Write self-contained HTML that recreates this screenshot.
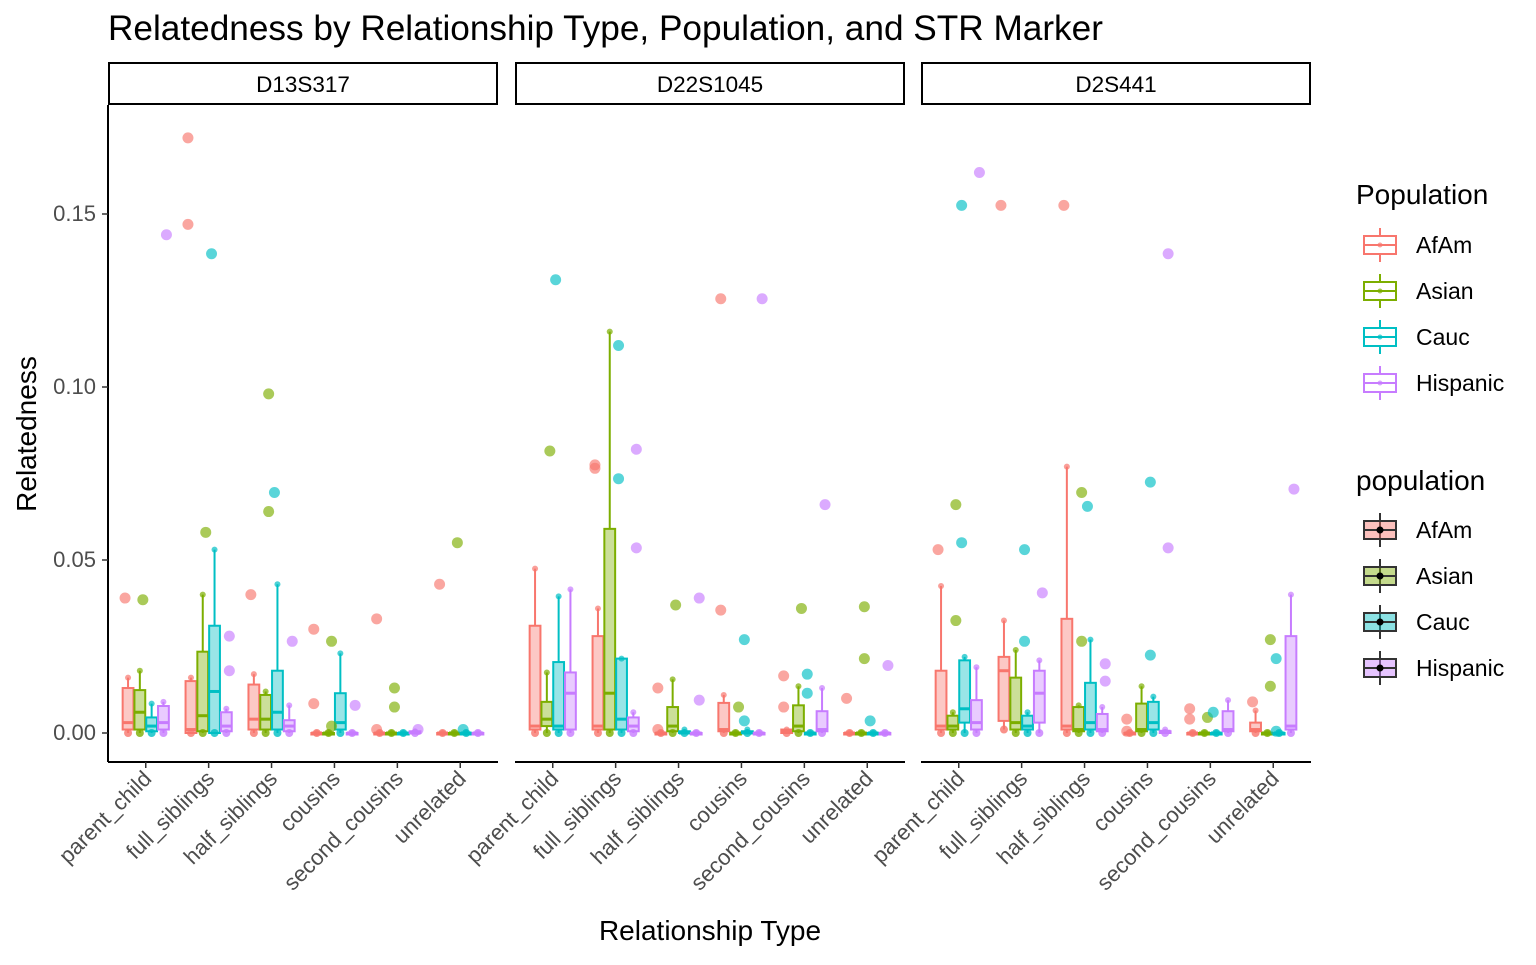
<!DOCTYPE html>
<html><head><meta charset="utf-8"><style>
body{margin:0;background:#fff;}
svg{font-family:"Liberation Sans",Arial,sans-serif;}
</style></head><body>
<svg id="c" width="1536" height="960" xmlns="http://www.w3.org/2000/svg"></svg>
<script>
const markers = ["D13S317","D22S1045","D2S441"];
const categories = ["parent_child","full_siblings","half_siblings","cousins","second_cousins","unrelated"];
const populations = ["AfAm","Asian","Cauc","Hispanic"];
const colors = ["#F8766D","#7CAE00","#00BFC4","#C77CFF"];
const yTicks = [0,0.05,0.10,0.15];
const yTickLabels = ["0.00","0.05","0.10","0.15"];
// box stats [low, q1, median, q3, high] per marker -> category -> population
const boxStats = [
 [
  [[0,0.001,0.003,0.013,0.016],[0,0.001,0.006,0.0124,0.018],[0,0.0005,0.002,0.0045,0.0085],[0,0.001,0.003,0.0078,0.009]],
  [[0,0,0.001,0.015,0.016],[0,0.0005,0.005,0.0235,0.040],[0,0,0.012,0.031,0.053],[0,0.0005,0.002,0.006,0.007]],
  [[0,0.001,0.004,0.014,0.017],[0,0.001,0.004,0.011,0.012],[0,0.001,0.006,0.018,0.043],[0,0.0005,0.002,0.0037,0.008]],
  [[0,0,0,0,0],[0,0,0,0,0],[0,0.001,0.003,0.0115,0.023],[0,0,0,0,0]],
  [[0,0,0,0,0],[0,0,0,0,0],[0,0,0,0,0],[0,0,0,0.0005,0.0005]],
  [[0,0,0,0,0],[0,0,0,0,0],[0,0,0,0,0],[0,0,0,0,0]]
 ],
 [
  [[0,0.001,0.002,0.031,0.0475],[0,0.002,0.004,0.009,0.0175],[0,0.001,0.002,0.0205,0.0395],[0,0.001,0.0115,0.0175,0.0415]],
  [[0,0.001,0.002,0.028,0.036],[0,0.001,0.0115,0.059,0.116],[0,0.001,0.004,0.0215,0.0215],[0,0.0005,0.002,0.0045,0.006]],
  [[0,0,0,0,0],[0,0.0005,0.002,0.0075,0.0155],[0,0,0,0.0005,0.001],[0,0,0,0,0]],
  [[0,0.0005,0.001,0.0087,0.011],[0,0,0,0,0],[0,0,0,0.0005,0.001],[0,0,0,0,0]],
  [[0,0,0.0005,0.001,0.001],[0,0.0005,0.002,0.008,0.0135],[0,0,0,0,0],[0,0.0005,0.001,0.0063,0.013]],
  [[0,0,0,0,0],[0,0,0,0,0],[0,0,0,0,0],[0,0,0,0,0]]
 ],
 [
  [[0,0.001,0.002,0.018,0.0425],[0,0.001,0.002,0.005,0.006],[0,0.003,0.007,0.021,0.022],[0,0.001,0.003,0.0095,0.019]],
  [[0.001,0.0035,0.018,0.022,0.0325],[0,0.001,0.003,0.016,0.024],[0,0.001,0.002,0.005,0.006],[0,0.003,0.0115,0.018,0.021]],
  [[0,0.001,0.002,0.033,0.077],[0,0.0005,0.001,0.0075,0.008],[0,0.001,0.003,0.0145,0.027],[0,0.0005,0.001,0.0055,0.0075]],
  [[0,0,0,0,0],[0,0.0005,0.001,0.0085,0.0135],[0,0.001,0.003,0.009,0.0105],[0,0,0.0005,0.0005,0.001]],
  [[0,0,0,0,0],[0,0,0,0,0],[0,0,0,0,0],[0,0.0005,0.001,0.0063,0.0095]],
  [[0,0.0005,0.001,0.003,0.0065],[0,0,0,0,0],[0,0,0,0,0],[0,0.001,0.002,0.028,0.040]]
 ]
];
// outliers: [marker, category, population, value]
const outliers = [
 [0,0,0,0.039],[0,0,1,0.0385],[0,0,3,0.144],
 [0,1,0,0.172],[0,1,0,0.147],[0,1,1,0.058],[0,1,2,0.1385],[0,1,3,0.028],[0,1,3,0.018],
 [0,2,0,0.040],[0,2,1,0.064],[0,2,1,0.098],[0,2,2,0.0695],[0,2,3,0.0265],
 [0,3,0,0.030],[0,3,0,0.0085],[0,3,1,0.0265],[0,3,1,0.002],[0,3,3,0.008],
 [0,4,0,0.033],[0,4,0,0.001],[0,4,1,0.013],[0,4,1,0.0075],[0,4,3,0.001],
 [0,5,0,0.043],[0,5,1,0.055],[0,5,2,0.001],
 [1,0,1,0.0815],[1,0,2,0.131],
 [1,1,0,0.0775],[1,1,0,0.0765],[1,1,2,0.112],[1,1,2,0.0735],[1,1,3,0.082],[1,1,3,0.0535],
 [1,2,0,0.013],[1,2,0,0.001],[1,2,1,0.037],[1,2,3,0.039],[1,2,3,0.0095],
 [1,3,0,0.1255],[1,3,0,0.0355],[1,3,1,0.0075],[1,3,2,0.027],[1,3,2,0.0035],[1,3,3,0.1255],
 [1,4,0,0.0165],[1,4,0,0.0075],[1,4,1,0.036],[1,4,2,0.017],[1,4,2,0.0115],[1,4,3,0.066],
 [1,5,0,0.010],[1,5,1,0.0365],[1,5,1,0.0215],[1,5,2,0.0035],[1,5,3,0.0195],
 [2,0,0,0.053],[2,0,1,0.066],[2,0,1,0.0325],[2,0,2,0.055],[2,0,2,0.1525],[2,0,3,0.162],
 [2,1,0,0.1525],[2,1,2,0.053],[2,1,2,0.0265],[2,1,3,0.0405],
 [2,2,0,0.1525],[2,2,1,0.0695],[2,2,1,0.0265],[2,2,2,0.0655],[2,2,3,0.020],[2,2,3,0.015],
 [2,3,0,0.004],[2,3,0,0.0005],[2,3,2,0.0725],[2,3,2,0.0225],[2,3,3,0.1385],[2,3,3,0.0535],
 [2,4,0,0.007],[2,4,0,0.004],[2,4,1,0.0045],[2,4,2,0.006],
 [2,5,0,0.009],[2,5,1,0.027],[2,5,1,0.0135],[2,5,2,0.0215],[2,5,2,0.0005],[2,5,3,0.0705]
];
const NS="http://www.w3.org/2000/svg";
const svg=document.getElementById('c');
function mk(tag,attrs,parent){const e=document.createElementNS(NS,tag);for(const k in attrs)e.setAttribute(k,attrs[k]);(parent||svg).appendChild(e);return e;}
const panelX=[108,515,921], panelW=390, yTop=105, yBot=762;
function yScale(v){return 733 - v*3460;}
function xScale(p,ci,pi){const unit=panelW/6.2;return panelX[p]+(0.6+ci)*unit+(pi-1.5)*0.1875*unit;}
const boxW=0.1875*panelW/6.2-1;

let t=mk('text',{x:108,y:40,'font-size':35.2,fill:'#000'});t.textContent="Relatedness by Relationship Type, Population, and STR Marker";



markers.forEach((m,p)=>{
  const g=mk('g',{});
  
  
  const s=mk('rect',{x:panelX[p]+1,y:63,width:panelW-2,height:41,fill:'#fff',stroke:'#000','stroke-width':2},g);
  
  
  const st=mk('text',{x:panelX[p]+panelW/2,y:92,'font-size':22.5,'text-anchor':'middle'},g);st.textContent=m;
  
  
  const ax=mk('line',{x1:panelX[p],x2:panelX[p]+panelW,y1:yBot,y2:yBot,stroke:'#000','stroke-width':2},g);
  
  
  categories.forEach((c,ci)=>{
    const cx=panelX[p]+(0.6+ci)*panelW/6.2;
    mk('line',{x1:cx,x2:cx,y1:yBot,y2:yBot+6,stroke:'#333','stroke-width':1.5},g);
    const lt=mk('text',{x:0,y:0,'font-size':22,fill:'#4d4d4d','text-anchor':'end',transform:`translate(${cx+7},${yBot+18}) rotate(-45)`},g);
    lt.textContent=c;
    
    
    populations.forEach((pop,pi)=>{
      const [lo,q1,med,q3,hi]=boxStats[p][ci][pi];
      const x=xScale(p,ci,pi), col=colors[pi];
      const bg=mk('g',{},g);
      
      
      mk('line',{x1:x,x2:x,y1:yScale(hi),y2:yScale(q3),stroke:col,'stroke-width':2},bg);
      mk('line',{x1:x,x2:x,y1:yScale(q1),y2:yScale(lo),stroke:col,'stroke-width':2},bg);
      const h=Math.max(yScale(q1)-yScale(q3),1.5);
      mk('rect',{x:x-boxW/2,y:yScale(q3),width:boxW,height:h,fill:col,'fill-opacity':0.4,stroke:col,'stroke-width':2},bg);
      mk('line',{x1:x-boxW/2,x2:x+boxW/2,y1:yScale(med),y2:yScale(med),stroke:col,'stroke-width':3},bg);
      mk('circle',{cx:x,cy:yScale(lo),r:4,fill:col,'fill-opacity':0.8},bg);
      mk('circle',{cx:x,cy:yScale(hi),r:3,fill:col,'fill-opacity':0.7},bg);
    });
  });
});
outliers.forEach(([p,ci,pi,v])=>{
  const x=xScale(p,ci,pi)+(pi%2?3:-3);
  const c=mk('circle',{cx:x,cy:yScale(v),r:5.5,fill:colors[pi],'fill-opacity':0.65});
  
  
});
const ya=mk('line',{x1:108,x2:108,y1:yTop,y2:yBot,stroke:'#000','stroke-width':2});


yTicks.forEach((v,i)=>{
  mk('line',{x1:102,x2:108,y1:yScale(v),y2:yScale(v),stroke:'#333','stroke-width':1.5});
  const tl=mk('text',{x:96,y:yScale(v)+7,'font-size':22,fill:'#4d4d4d','text-anchor':'end'});tl.textContent=yTickLabels[i];
  
  
});
const yt=mk('text',{x:0,y:0,'font-size':28,'text-anchor':'middle',transform:'translate(36,434) rotate(-90)'});yt.textContent="Relatedness";


const xt=mk('text',{x:710,y:940,'font-size':28,'text-anchor':'middle'});xt.textContent="Relationship Type";


function legend(title,ty,firstY,filled){
  const lg=mk('g',{});
  
  
  const tt=mk('text',{x:1356,y:ty,'font-size':28},lg);tt.textContent=title;
  populations.forEach((pop,i)=>{
    const y=firstY+i*46, col=colors[i];
    const e=mk('g',{},lg);
    
    
    const sc=filled?'#333':col;
    mk('line',{x1:1380,x2:1380,y1:y-17,y2:y+17,stroke:sc,'stroke-width':2},e);
    mk('rect',{x:1364,y:y-9,width:32,height:18,fill:filled?col:'#fff','fill-opacity':filled?0.45:1,stroke:sc,'stroke-width':2},e);
    mk('line',{x1:1364,x2:1396,y1:y,y2:y,stroke:sc,'stroke-width':2},e);
    mk('circle',{cx:1380,cy:y,r:filled?3.5:2.5,fill:filled?'#000':col,'fill-opacity':filled?1:0.7},e);
    const lt=mk('text',{x:1416,y:y+8,'font-size':23},e);lt.textContent=pop;
  });
}
legend("Population",204,245,false);
legend("population",490,530,true);
</script>
</body></html>
